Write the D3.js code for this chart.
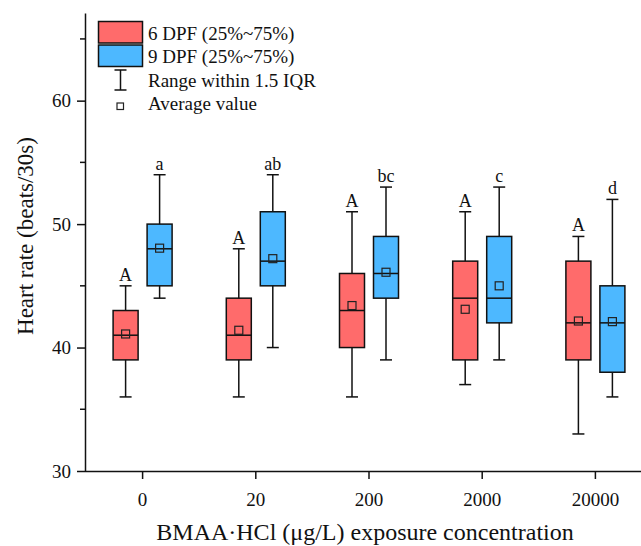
<!DOCTYPE html>
<html>
<head>
<meta charset="utf-8">
<script src="https://cdn.jsdelivr.net/npm/d3@7"></script>
<style>
  body { margin: 0; background: #fff; }
  text { font-family: "Liberation Serif", "Times New Roman", serif; fill: #111; }
</style>
</head>
<body>
<script>
// concentrations and box stats
var concentrations = ["0", "20", "200", "2000", "20000"];
var series = ["6 DPF", "9 DPF"];
// [whiskerLow, q1, median, q3, whiskerHigh, mean]
var dpf6 = [
  [36, 39, 41, 43, 45, 41.1],
  [36, 39, 41, 44, 48, 41.4],
  [36, 40, 43, 46, 51, 43.4],
  [37, 39, 44, 47, 51, 43.1],
  [33, 39, 42, 47, 49, 42.15]
];
var dpf9 = [
  [44, 45, 48, 50, 54, 48.05],
  [40, 45, 47, 51, 54, 47.2],
  [39, 44, 46, 49, 53, 46.1],
  [39, 42, 44, 49, 53, 45.0],
  [36, 38, 42, 45, 52, 42.1]
];
var letters6 = ["A", "A", "A", "A", "A"];
var letters9 = ["a", "ab", "bc", "c", "d"];
var yTicks = [30, 40, 50, 60];
var yMinor = [35, 45, 55, 65];
var colors = ["#ff6b6b", "#4db8ff"];

var W = 641, H = 546;

var svg = d3.select("body").append("svg")
    .attr("width", W)
    .attr("height", H);

var x = d3.scaleBand()
    .domain(concentrations)
    .range([86, 652])
    .padding(0);

var y = d3.scaleLinear()
    .domain([30, 67.1])
    .range([471, 13]);

var boxW = 25, offset = 17, capW = 12;

// x axis
var xAxis = svg.append("g")
    .attr("transform", "translate(0,471)")
    .call(d3.axisBottom(x).tickSize(8).tickPadding(14).tickSizeOuter(0));
xAxis.select(".domain").attr("d", "M85,0.5H641").attr("stroke", "#111").attr("stroke-width", 1.5);
xAxis.selectAll(".tick line").attr("stroke", "#111").attr("stroke-width", 1.5);
xAxis.selectAll(".tick text").style("font-size", "19px").attr("fill", "#111");

// y axis with minor ticks
var yAxis = svg.append("g")
    .attr("transform", "translate(85,0)")
    .call(d3.axisLeft(y).tickValues(yTicks).tickSize(8).tickPadding(6).tickSizeOuter(0));
yAxis.select(".domain").attr("stroke", "#111").attr("stroke-width", 1.5);
yAxis.selectAll(".tick line").attr("stroke", "#111").attr("stroke-width", 1.5);
yAxis.selectAll(".tick text").style("font-size", "19px").attr("fill", "#111");
svg.append("g").selectAll("line")
    .data(yMinor)
    .enter().append("line")
    .attr("x1", 80).attr("x2", 85)
    .attr("y1", function(d) { return y(d); })
    .attr("y2", function(d) { return y(d); })
    .attr("stroke", "#111").attr("stroke-width", 1.5);

// axis titles
svg.append("text")
    .attr("x", 365).attr("y", 540)
    .attr("text-anchor", "middle")
    .style("font-size", "24px")
    .text("BMAA·HCl (μg/L) exposure concentration");
svg.append("text")
    .attr("transform", "translate(33,236) rotate(-90)")
    .attr("text-anchor", "middle")
    .style("font-size", "23px")
    .text("Heart rate (beats/30s)");

// draw boxes for one series
function drawBoxes(data, letters, dx, color) {
  var g = svg.append("g");
  data.forEach(function(d, i) {
    var cx = x(concentrations[i]) + x.bandwidth() / 2 + dx;
    var b = g.append("g");
    b.append("line")
      .attr("x1", cx).attr("x2", cx)
      .attr("y1", y(d[0])).attr("y2", y(d[4]))
      .attr("stroke", "#111").attr("stroke-width", 1.5);
    [d[0], d[4]].forEach(function(v) {
      b.append("line")
        .attr("x1", cx - capW / 2).attr("x2", cx + capW / 2)
        .attr("y1", y(v)).attr("y2", y(v))
        .attr("stroke", "#111").attr("stroke-width", 1.5);
    });
    b.append("rect")
      .attr("x", cx - boxW / 2).attr("width", boxW)
      .attr("y", y(d[3])).attr("height", y(d[1]) - y(d[3]))
      .attr("fill", color).attr("stroke", "#111").attr("stroke-width", 1.5);
    b.append("line")
      .attr("x1", cx - boxW / 2).attr("x2", cx + boxW / 2)
      .attr("y1", y(d[2])).attr("y2", y(d[2]))
      .attr("stroke", "#111").attr("stroke-width", 1.5);
    b.append("rect")
      .attr("x", cx - 4).attr("y", y(d[5]) - 4)
      .attr("width", 8).attr("height", 8)
      .attr("fill", "none").attr("stroke", "#222").attr("stroke-width", 1.2);
    b.append("text")
      .attr("x", cx).attr("y", y(d[4]) - 5)
      .attr("text-anchor", "middle")
      .style("font-size", "18px")
      .text(letters[i]);
  });
}
drawBoxes(dpf6, letters6, -offset, colors[0]);
drawBoxes(dpf9, letters9, offset, colors[1]);

// legend
var lg = svg.append("g");
series.forEach(function(s, i) {
  lg.append("rect")
    .attr("x", 98.5).attr("y", 21.5 + i * 23.5)
    .attr("width", 44).attr("height", 21.5)
    .attr("fill", colors[i]).attr("stroke", "#111").attr("stroke-width", 1.5);
  lg.append("text")
    .attr("x", 148).attr("y", 39.5 + i * 23.5)
    .style("font-size", "19px")
    .text(s + " (25%~75%)");
});
lg.append("line").attr("x1", 120.5).attr("x2", 120.5).attr("y1", 70).attr("y2", 90)
  .attr("stroke", "#111").attr("stroke-width", 1.5);
[70, 90].forEach(function(v) {
  lg.append("line").attr("x1", 114.5).attr("x2", 126.5).attr("y1", v).attr("y2", v)
    .attr("stroke", "#111").attr("stroke-width", 1.5);
});
lg.append("text").attr("x", 148).attr("y", 86.5).style("font-size", "19px").text("Range within 1.5 IQR");
lg.append("rect").attr("x", 117).attr("y", 103).attr("width", 6.5).attr("height", 6.5)
  .attr("fill", "none").attr("stroke", "#222").attr("stroke-width", 1.2);
lg.append("text").attr("x", 148).attr("y", 109.5).style("font-size", "19px").text("Average value");
</script>
</body>
</html>
